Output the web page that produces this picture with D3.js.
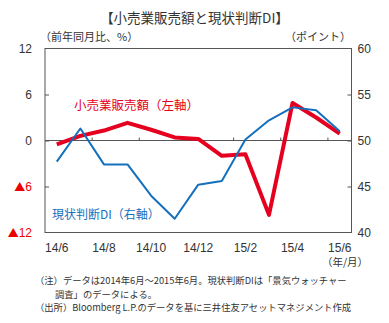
<!DOCTYPE html>
<html><head><meta charset="utf-8">
<script src="https://cdn.jsdelivr.net/npm/d3@7"></script>
<style>
body{margin:0;background:#fff;}
svg{display:block;}
text{font-family:"Noto Sans CJK JP","Noto Sans",sans-serif;}
.num{font-family:"Liberation Sans",Arial,sans-serif;}
</style></head>
<body><svg id="c" width="389" height="323"></svg>
<script>
const categories = ["14/6","14/7","14/8","14/9","14/10","14/11","14/12","15/1","15/2","15/3","15/4","15/5","15/6"];
const retailSales = [-0.5, 0.6, 1.3, 2.3, 1.4, 0.4, 0.2, -2.0, -1.8, -9.7, 4.9, 3.0, 0.9];
const currentDI = [47.7, 51.3, 47.4, 47.4, 44.0, 41.5, 45.2, 45.6, 50.1, 52.2, 53.6, 53.3, 51.0];
const leftTicks = [12, 6, 0, -6, -12];
const rightTicks = [60, 55, 50, 45, 40];
const xLabels = ["14/6","14/8","14/10","14/12","15/2","15/4","15/6"];
const title = "【小売業販売額と現状判断DI】";
const leftUnit = "（前年同月比、%）";
const rightUnit = "（ポイント）";
const xUnit = "（年/月）";
const redLabel = "小売業販売額（左軸）";
const blueLabel = "現状判断DI（右軸）";
const notes = [
  "（注）データは2014年6月～2015年6月。現状判断DIは「景気ウォッチャー",
  "調査」のデータによる。",
  "（出所）Bloomberg L.P.のデータを基に三井住友アセットマネジメント作成"
];

const RED = "#e60020", BLUE = "#1470bd", GRAY = "#555", TXT = "#333";
const svg = d3.select("#c");
const L = 45, R = 351.5, T = 48.5, B = 232.5;

const x = d3.scaleBand().domain(categories).range([L, R]);
const xc = d => x(d) + x.bandwidth() / 2;
const yL = d3.scaleLinear().domain([-12, 12]).range([B, T]);
const yR = d3.scaleLinear().domain([40, 60]).range([B, T]);

// title
svg.append("text").attr("x", 194.5).attr("y", 23).attr("text-anchor", "middle")
  .attr("font-size", 13.5).attr("fill", TXT).text(title);
svg.append("text").attr("x", 40).attr("y", 41).attr("font-size", 11).attr("fill", TXT).text(leftUnit);
svg.append("text").attr("x", 351).attr("y", 41).attr("text-anchor", "end").attr("font-size", 11).attr("fill", TXT).text(rightUnit);

// left axis
const ax = svg.append("g").attr("transform", `translate(${L},0)`)
  .call(d3.axisLeft(yL).tickValues(leftTicks).tickSize(-4).tickPadding(13).tickFormat(""));
ax.select(".domain").remove();
ax.selectAll(".tick line").attr("stroke", GRAY).attr("opacity", d => (d === 12 || d === -12) ? 0 : 1);
ax.selectAll(".tick text").attr("class", "num").attr("font-size", 12)
  .attr("fill", d => d < 0 ? "#ee0000" : TXT)
  .each(function(d) {
    const t = d3.select(this);
    if (d < 0) {
      t.append("tspan").attr("font-family", "'Noto Sans CJK JP'").attr("font-size", 11).text("▲");
      t.append("tspan").text(Math.abs(d));
    } else {
      t.text(d);
    }
  });

// right axis
const ar = svg.append("g").attr("transform", `translate(${R},0)`)
  .call(d3.axisRight(yR).tickValues(rightTicks).tickSize(-4).tickPadding(6));
ar.select(".domain").remove();
ar.selectAll(".tick line").attr("stroke", GRAY).attr("opacity", d => (d === 60 || d === 40) ? 0 : 1);
ar.selectAll(".tick text").attr("class", "num").attr("font-size", 12).attr("fill", TXT);

// frame
svg.append("rect").attr("x", L).attr("y", T).attr("width", R - L).attr("height", B - T)
  .attr("fill", "none").attr("stroke", GRAY).attr("stroke-width", 1);

// zero line with ticks
svg.append("line").attr("x1", L).attr("x2", R).attr("y1", yL(0)).attr("y2", yL(0))
  .attr("stroke", GRAY).attr("stroke-width", 1);
svg.append("g").selectAll("line").data(categories.filter((d, i) => i > 0 && i % 2 === 0))
  .join("line").attr("x1", d => x(d)).attr("x2", d => x(d))
  .attr("y1", yL(0)).attr("y2", yL(0) - 3).attr("stroke", GRAY);

// x labels
const axb = svg.append("g").attr("transform", `translate(0,${B})`)
  .call(d3.axisBottom(x).tickValues(xLabels).tickSize(0).tickPadding(10.5));
axb.select(".domain").remove();
axb.selectAll(".tick text").attr("class", "num").attr("font-size", 12).attr("fill", TXT);
svg.append("text").attr("x", 345).attr("y", 266).attr("text-anchor", "middle")
  .attr("font-size", 10.5).attr("fill", TXT).text(xUnit);

// lines
svg.append("path").datum(retailSales)
  .attr("d", d3.line().x((d, i) => xc(categories[i])).y(d => yL(d)))
  .attr("fill", "none").attr("stroke", RED).attr("stroke-width", 4).attr("stroke-linejoin", "round");
svg.append("path").datum(currentDI)
  .attr("d", d3.line().x((d, i) => xc(categories[i])).y(d => yR(d)))
  .attr("fill", "none").attr("stroke", BLUE).attr("stroke-width", 2).attr("stroke-linejoin", "round");

// series labels
svg.append("text").attr("x", 74).attr("y", 110).attr("font-size", 12.5).attr("fill", RED).text(redLabel);
svg.append("text").attr("x", 52).attr("y", 219).attr("font-size", 12).attr("fill", BLUE).text(blueLabel);

// notes
const nx = [35, 55, 35];
const ny = [284, 297.6, 311.2];
notes.forEach((t, i) => {
  svg.append("text").attr("x", nx[i]).attr("y", ny[i]).attr("font-size", 9.3).attr("fill", TXT).text(t);
});
</script></body></html>
